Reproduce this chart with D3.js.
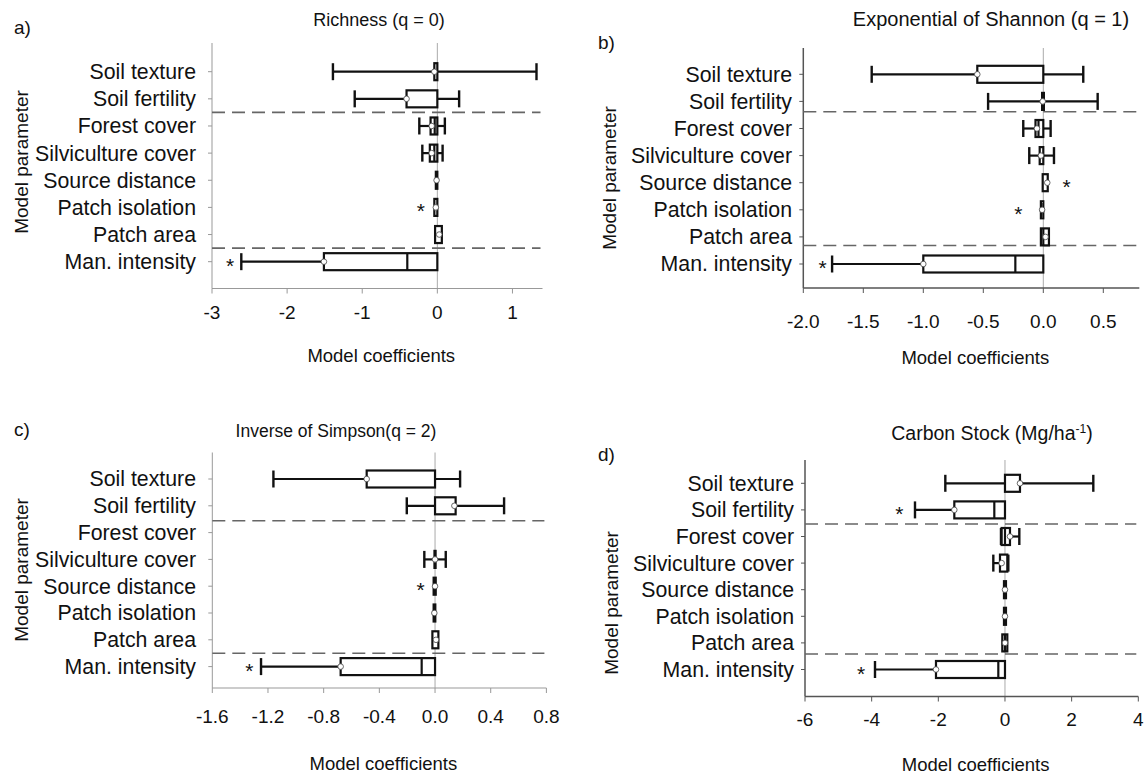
<!DOCTYPE html>
<html>
<head>
<meta charset="utf-8">
<script src="https://cdn.jsdelivr.net/npm/d3@7"></script>
<style>
  html, body { margin: 0; padding: 0; background: #fff; }
  svg { display: block; }
  text { font-family: "Liberation Sans", Arial, sans-serif; fill: #111; }
</style>
</head>
<body>
<svg id="chart" width="1146" height="776"></svg>
<script>
// ---------- DATA ----------
const categories = ["Soil texture", "Soil fertility", "Forest cover", "Silviculture cover",
                    "Source distance", "Patch isolation", "Patch area", "Man. intensity"];

// a) Richness (q = 0)
const richLow    = [-1.39, -1.10, -0.24, -0.20, null, null, null, -2.61];
const richHigh   = [1.32, 0.29, 0.10, 0.07, null, null, null, null];
const richBoxLo  = [-0.04, -0.41, -0.09, -0.10, -0.02, -0.04, -0.03, -1.51];
const richBoxHi  = [0, 0, 0, 0, 0, 0, 0.06, 0];
const richMedian = [null, null, -0.035, -0.04, null, null, null, -0.40];
const richEst    = [-0.04, -0.41, -0.075, -0.075, -0.01, -0.02, 0.025, -1.51];
const richStars  = [null, null, null, null, null, -0.22, null, -2.76];
const richTicks  = [-3, -2, -1, 0, 1];
const richTickLabels = ["-3", "-2", "-1", "0", "1"];

// b) Exponential of Shannon (q = 1)
const shanLow    = [-1.43, -0.46, -0.167, -0.117, null, null, null, -1.76];
const shanHigh   = [0.333, 0.453, 0.061, 0.089, null, null, null, null];
const shanBoxLo  = [-0.55, -0.01, -0.065, -0.03, -0.005, -0.02, -0.02, -1.0];
const shanBoxHi  = [0, 0.005, 0, 0, 0.037, 0, 0.047, 0];
const shanMedian = [null, null, -0.04, null, null, null, 0.0, -0.233];
const shanEst    = [-0.55, -0.005, -0.053, -0.02, 0.033, -0.01, 0.019, -1.0];
const shanStars  = [null, null, null, null, 0.195, -0.208, null, -1.84];
const shanTicks  = [-2, -1.5, -1, -0.5, 0, 0.5];
const shanTickLabels = ["-2.0", "-1.5", "-1.0", "-0.5", "0.0", "0.5"];

// c) Inverse of Simpson (q = 2)
const simpLow    = [-1.161, -0.203, null, -0.077, null, null, null, -1.25];
const simpHigh   = [0.18, 0.496, null, 0.077, null, null, null, null];
const simpBoxLo  = [-0.491, 0, null, -0.004, -0.01, -0.01, -0.019, -0.678];
const simpBoxHi  = [0, 0.148, null, 0.004, 0.005, 0.002, 0.024, 0];
const simpMedian = [null, null, null, null, null, null, null, -0.096];
const simpEst    = [-0.491, 0.139, null, 0, 0, -0.005, 0.007, -0.678];
const simpStars  = [null, null, null, null, -0.103, null, null, -1.334];
const simpTicks  = [-1.6, -1.2, -0.8, -0.4, 0, 0.4, 0.8];
const simpTickLabels = ["-1.6", "-1.2", "-0.8", "-0.4", "0.0", "0.4", "0.8"];

// d) Carbon Stock
const carbLow    = [-1.79, -2.7, -0.12, -0.35, null, null, null, -3.9];
const carbHigh   = [2.65, null, 0.43, 0.10, null, null, null, null];
const carbBoxLo  = [0, -1.52, -0.1, -0.15, -0.03, -0.03, -0.08, -2.07];
const carbBoxHi  = [0.45, 0, 0.15, 0.07, 0.03, 0.03, 0.07, 0];
const carbMedian = [null, -0.32, 0, null, null, null, 0, -0.2];
const carbEst    = [0.45, -1.52, 0.15, -0.1, 0, 0, 0, -2.07];
const carbStars  = [null, -3.17, null, null, null, null, null, -4.32];
const carbTicks  = [-6, -4, -2, 0, 2, 4];
const carbTickLabels = ["-6", "-4", "-2", "0", "2", "4"];

// group separators (dashed lines), in row-index units
const richSeparators = [1.5, 6.5];
const shanSeparators = [1.38, 6.32];
const simpSeparators = [1.56, 6.5];
const carbSeparators = [1.53, 6.42];

// ---------- LAYOUT ----------
const panels = [
  { letter: "a)", title: ["Richness (q = 0)"], low: richLow, high: richHigh, boxLo: richBoxLo, boxHi: richBoxHi,
    median: richMedian, est: richEst, stars: richStars, ticks: richTicks, tickLabels: richTickLabels, seps: richSeparators,
    domain: [-3, 1.4], xr: [212, 542.5], firstRow: 71.7, step: 27.14, axTop: 43, axBottom: 288.5,
    labelRight: 196, tickLabelY: 319, xTitleY: 362, yTitleX: 28, yTitleY: 162, titleSize: 18,
    letterXY: [14, 34], titleXY: [379, 26], axisColor: "#999", axisW: 1 },
  { letter: "b)", title: ["Exponential of Shannon (q = 1)"], low: shanLow, high: shanHigh, boxLo: shanBoxLo, boxHi: shanBoxHi,
    median: shanMedian, est: shanEst, stars: shanStars, ticks: shanTicks, tickLabels: shanTickLabels, seps: shanSeparators,
    domain: [-2, 0.8], xr: [803.3, 1139.3], firstRow: 74.3, step: 27.1, axTop: 48, axBottom: 288,
    labelRight: 792, tickLabelY: 328, xTitleY: 364, yTitleX: 616, yTitleY: 178, titleSize: 20,
    letterXY: [598, 49], titleXY: [991, 26], axisColor: "#555", axisW: 1.5 },
  { letter: "c)", title: ["Inverse of Simpson(q = 2)"], low: simpLow, high: simpHigh, boxLo: simpBoxLo, boxHi: simpBoxHi,
    median: simpMedian, est: simpEst, stars: simpStars, ticks: simpTicks, tickLabels: simpTickLabels, seps: simpSeparators,
    domain: [-1.6, 0.8], xr: [212.3, 546.4], firstRow: 479, step: 26.8, axTop: 452.5, axBottom: 688,
    labelRight: 196, tickLabelY: 723, xTitleY: 770, yTitleX: 28, yTitleY: 570, titleSize: 17.5,
    letterXY: [14, 436], titleXY: [336, 437], axisColor: "#999", axisW: 1 },
  { letter: "d)", title: ["Carbon Stock (Mg/ha", "-1", ")"], low: carbLow, high: carbHigh, boxLo: carbBoxLo, boxHi: carbBoxHi,
    median: carbMedian, est: carbEst, stars: carbStars, ticks: carbTicks, tickLabels: carbTickLabels, seps: carbSeparators,
    domain: [-6, 4], xr: [805, 1138.3], firstRow: 483.3, step: 26.6, axTop: 460, axBottom: 696.5,
    labelRight: 794, tickLabelY: 726, xTitleY: 771, yTitleX: 618, yTitleY: 603, titleSize: 19.5,
    letterXY: [598, 461], titleXY: [992, 440], axisColor: "#555", axisW: 1.5 }
];

const svg = d3.select("#chart");
const boxH = 17;

panels.forEach(p => {
  const g = svg.append("g");
  const x = d3.scaleLinear().domain(p.domain).range(p.xr);
  const y = d3.scalePoint().domain(categories).range([p.firstRow, p.firstRow + 7 * p.step]);
  const yIdx = i => p.firstRow + i * p.step;

  // panel letter and title
  g.append("text").attr("x", p.letterXY[0]).attr("y", p.letterXY[1])
    .attr("font-size", 19).text(p.letter);
  const t = g.append("text").attr("x", p.titleXY[0]).attr("y", p.titleXY[1])
    .attr("text-anchor", "middle").attr("font-size", p.titleSize);
  t.append("tspan").text(p.title[0]);
  if (p.title.length > 1) {
    t.append("tspan").attr("font-size", p.titleSize * 0.62).attr("dy", -7).text(p.title[1]);
    t.append("tspan").attr("dy", 7).text(p.title[2]);
  }

  // zero line
  g.append("line").attr("x1", x(0)).attr("x2", x(0)).attr("y1", p.axTop).attr("y2", p.axBottom)
    .attr("stroke", "#aaa").attr("stroke-width", 1);

  // y axis
  g.append("line").attr("x1", p.xr[0]).attr("x2", p.xr[0]).attr("y1", p.axTop).attr("y2", p.axBottom)
    .attr("stroke", p.axisColor).attr("stroke-width", p.axisW);
  categories.forEach(c => {
    g.append("line").attr("x1", p.xr[0] - 4).attr("x2", p.xr[0]).attr("y1", y(c)).attr("y2", y(c))
      .attr("stroke", p.axisColor).attr("stroke-width", 1);
    g.append("text").attr("x", p.labelRight).attr("y", y(c)).attr("dy", "0.35em")
      .attr("text-anchor", "end").attr("font-size", 21.3).text(c);
  });

  // x axis
  g.append("line").attr("x1", p.xr[0]).attr("x2", p.xr[1]).attr("y1", p.axBottom).attr("y2", p.axBottom)
    .attr("stroke", p.axisColor).attr("stroke-width", p.axisW);
  p.ticks.forEach((tv, i) => {
    g.append("line").attr("x1", x(tv)).attr("x2", x(tv)).attr("y1", p.axBottom).attr("y2", p.axBottom + 5)
      .attr("stroke", p.axisColor).attr("stroke-width", 1);
    g.append("text").attr("x", x(tv)).attr("y", p.tickLabelY).attr("text-anchor", "middle")
      .attr("font-size", 19).text(p.tickLabels[i]);
  });
  g.append("text").attr("x", (p.xr[0] + p.xr[1]) / 2 + 4).attr("y", p.xTitleY).attr("text-anchor", "middle")
    .attr("font-size", 18.5).text("Model coefficients");
  g.append("text").attr("transform", `translate(${p.yTitleX},${p.yTitleY}) rotate(-90)`)
    .attr("text-anchor", "middle").attr("font-size", 19).text("Model parameter");

  // dashed separators
  p.seps.forEach(s => {
    g.append("line").attr("x1", p.xr[0]).attr("x2", p.xr[1] - 2).attr("y1", yIdx(s)).attr("y2", yIdx(s))
      .attr("stroke", "#666").attr("stroke-width", 1.6).attr("stroke-dasharray", "13,7");
  });

  // box-and-whisker marks
  categories.forEach((c, i) => {
    if (p.est[i] === null) return;
    const cy = y(c);
    const wl = p.low[i] !== null ? p.low[i] : p.boxLo[i];
    const wh = p.high[i] !== null ? p.high[i] : p.boxHi[i];
    g.append("line").attr("x1", x(wl)).attr("x2", x(wh)).attr("y1", cy).attr("y2", cy)
      .attr("stroke", "#111").attr("stroke-width", 2.2);
    [p.low[i], p.high[i]].forEach(v => {
      if (v === null) return;
      g.append("line").attr("x1", x(v)).attr("x2", x(v)).attr("y1", cy - boxH / 2).attr("y2", cy + boxH / 2)
        .attr("stroke", "#111").attr("stroke-width", 2.4);
    });
    const bx0 = x(p.boxLo[i]), bx1 = x(p.boxHi[i]);
    g.append("rect").attr("x", Math.min(bx0, bx1)).attr("y", cy - boxH / 2)
      .attr("width", Math.max(Math.abs(bx1 - bx0), 0.5)).attr("height", boxH)
      .attr("fill", "#fff").attr("stroke", "#111").attr("stroke-width", 2.2);
    if (p.median[i] !== null) {
      g.append("line").attr("x1", x(p.median[i])).attr("x2", x(p.median[i]))
        .attr("y1", cy - boxH / 2).attr("y2", cy + boxH / 2).attr("stroke", "#111").attr("stroke-width", 2.2);
    }
    g.append("circle").attr("cx", x(p.est[i])).attr("cy", cy).attr("r", 2.8)
      .attr("fill", "#fff").attr("stroke", "#444").attr("stroke-width", 0.8);
    if (p.stars[i] !== null) {
      g.append("text").attr("x", x(p.stars[i])).attr("y", cy + 11).attr("text-anchor", "middle")
        .attr("font-size", 21).text("*");
    }
  });
});
</script>
</body>
</html>
